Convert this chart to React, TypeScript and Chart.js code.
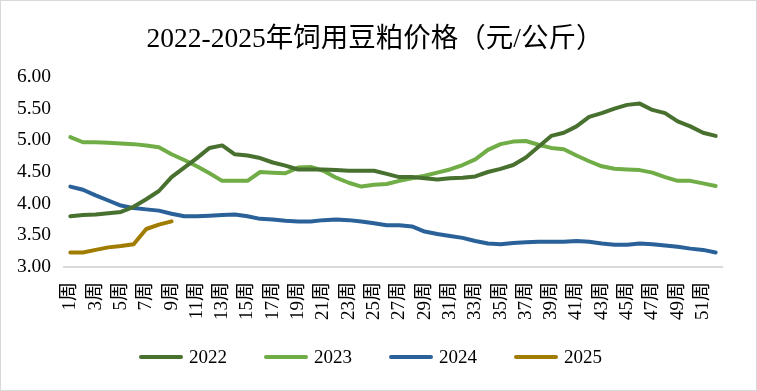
import React, { useEffect, useRef } from 'react';
import { Chart, registerables } from 'chart.js';

Chart.register(...registerables);

const weeks = [
  '1周', '2周', '3周', '4周', '5周', '6周', '7周', '8周', '9周', '10周',
  '11周', '12周', '13周', '14周', '15周', '16周', '17周', '18周', '19周', '20周',
  '21周', '22周', '23周', '24周', '25周', '26周', '27周', '28周', '29周', '30周',
  '31周', '32周', '33周', '34周', '35周', '36周', '37周', '38周', '39周', '40周',
  '41周', '42周', '43周', '44周', '45周', '46周', '47周', '48周', '49周', '50周',
  '51周', '52周',
];

const y2022 = [
  3.80, 3.82, 3.83, 3.85, 3.87, 3.95, 4.07, 4.20, 4.42, 4.57,
  4.72, 4.88, 4.92, 4.78, 4.76, 4.72, 4.65, 4.60, 4.54, 4.54,
  4.54, 4.53, 4.52, 4.52, 4.52, 4.47, 4.42, 4.42, 4.40, 4.38,
  4.40, 4.41, 4.43, 4.50, 4.55, 4.61, 4.73, 4.90, 5.07, 5.12,
  5.22, 5.37, 5.43, 5.50, 5.56, 5.58, 5.48, 5.43, 5.30, 5.22,
  5.12, 5.07,
];

const y2023 = [
  5.05, 4.97, 4.97, 4.96, 4.95, 4.94, 4.92, 4.89, 4.78, 4.69,
  4.59, 4.48, 4.36, 4.36, 4.36, 4.50, 4.49, 4.48, 4.57, 4.58,
  4.52, 4.41, 4.33, 4.27, 4.30, 4.31, 4.36, 4.40, 4.44, 4.49,
  4.54, 4.61, 4.70, 4.85, 4.94, 4.98, 4.99, 4.93, 4.88, 4.86,
  4.76, 4.67, 4.59, 4.55, 4.54, 4.53, 4.49, 4.42, 4.36, 4.36,
  4.32, 4.28,
];

const y2024 = [
  4.27, 4.22, 4.13, 4.05, 3.97, 3.93, 3.91, 3.89, 3.84, 3.80,
  3.80, 3.81, 3.82, 3.83, 3.80, 3.76, 3.75, 3.73, 3.72, 3.72,
  3.74, 3.75, 3.74, 3.72, 3.69, 3.66, 3.66, 3.64, 3.56, 3.52,
  3.49, 3.46, 3.41, 3.37, 3.36, 3.38, 3.39, 3.40, 3.40, 3.40,
  3.41, 3.40, 3.37, 3.35, 3.35, 3.37, 3.36, 3.34, 3.32, 3.29,
  3.27, 3.23,
];

const y2025 = [3.23, 3.23, 3.27, 3.31, 3.33, 3.36, 3.60, 3.67, 3.72];

const seriesNames = ['2022', '2023', '2024', '2025'];
const seriesColors = ['#48702f', '#70ad47', '#2a6198', '#a07c00'];
const yTicks = [3.0, 3.5, 4.0, 4.5, 5.0, 5.5, 6.0];

const titleText = '2022-2025年饲用豆粕价格（元/公斤）';
const SERIF = "'Liberation Serif', 'Times New Roman', 'Noto Sans CJK SC', serif";
const TITLE_SIZE = 27.5;

const titleShiftPlugin = {
  id: 'titleShift',
  afterDraw(chart: any) {
    const tb = chart.titleBlock;
    if (!tb) return;
    const ctx = chart.ctx;
    ctx.save();
    ctx.font = `${TITLE_SIZE}px ${SERIF}`;
    ctx.fillStyle = '#000';
    ctx.textAlign = 'center';
    ctx.textBaseline = 'middle';
    const cx = tb.left + tb.width / 2 + 7;
    const cy = tb.top + 22 + (TITLE_SIZE * 1.2) / 2;
    ctx.fillText(tb.options.text, cx, cy);
    ctx.restore();
  },
};

const legendPlugin = {
  id: 'customLegend',
  afterDraw(chart: any) {
    const ctx = chart.ctx;
    const ds = chart.data.datasets;
    const lineLen = 44;
    const gap = 6;
    const itemGap = 37;
    ctx.save();
    ctx.font = `19px ${SERIF}`;
    const widths = ds.map((d: any) => lineLen + gap + ctx.measureText(d.label).width);
    const total = widths.reduce((a: number, b: number) => a + b, 0) + itemGap * (ds.length - 1);
    let x = chart.width / 2 - 8 - total / 2;
    const y = 356;
    ds.forEach((d: any, i: number) => {
      ctx.strokeStyle = d.borderColor;
      ctx.lineWidth = 4;
      ctx.lineCap = 'round';
      ctx.beginPath();
      ctx.moveTo(x + 2, y);
      ctx.lineTo(x + lineLen - 2, y);
      ctx.stroke();
      ctx.fillStyle = '#000';
      ctx.textBaseline = 'middle';
      ctx.textAlign = 'left';
      ctx.fillText(d.label, x + lineLen + gap, y + 1);
      x += widths[i] + itemGap;
    });
    ctx.restore();
  },
};

export default function App() {
  const ref = useRef<HTMLCanvasElement>(null);

  useEffect(() => {
    document.body.style.margin = '0';
    const canvas = ref.current;
    if (!canvas) return;
    const allSeries = [y2022, y2023, y2024, y2025];
    const chart = new Chart(canvas, {
      type: 'line',
      data: {
        labels: weeks,
        datasets: allSeries.map((s, i) => ({
          label: seriesNames[i],
          data: s,
          borderColor: seriesColors[i],
          backgroundColor: seriesColors[i],
          borderWidth: 4,
          pointRadius: 0,
          pointHoverRadius: 0,
          tension: 0,
          fill: false,
          borderCapStyle: 'round' as const,
          borderJoinStyle: 'round' as const,
        })),
      },
      options: {
        animation: false,
        responsive: true,
        maintainAspectRatio: false,
        layout: { padding: { left: 13, right: 34, top: 0, bottom: 63 } },
        plugins: {
          legend: { display: false },
          tooltip: { enabled: false },
          title: {
            display: true,
            text: titleText,
            color: 'rgba(0,0,0,0)',
            font: { family: SERIF, size: TITLE_SIZE, weight: 'normal' as const },
            padding: { top: 22, bottom: 21 },
          },
        },
        scales: {
          x: {
            type: 'category',
            offset: true,
            grid: { display: false, drawTicks: false },
            border: { display: true, color: '#d9d9d9', width: 2 },
            ticks: {
              autoSkip: false,
              minRotation: 90,
              maxRotation: 90,
              padding: 15,
              color: '#000',
              font: { family: SERIF, size: 19 },
              callback: (_v: any, idx: number) => (idx % 2 === 0 ? weeks[idx] : ''),
            },
            afterFit: (scale: any) => {
              scale.height = 60;
            },
          },
          y: {
            min: yTicks[0],
            max: yTicks[yTicks.length - 1],
            grid: { display: false, drawTicks: false },
            border: { display: false },
            afterBuildTicks: (scale: any) => {
              scale.ticks = yTicks.map((v) => ({ value: v }));
            },
            ticks: {
              padding: 13,
              color: '#000',
              font: { family: SERIF, size: 19.5 },
              callback: (v: any) => Number(v).toFixed(2),
            },
            afterFit: (scale: any) => {
              scale.width = 50;
            },
          },
        },
      },
      plugins: [titleShiftPlugin, legendPlugin],
    });
    return () => chart.destroy();
  }, []);

  return (
    <div
      style={{
        width: 757,
        height: 391,
        boxSizing: 'border-box',
        border: '1px solid #d9d9d9',
        background: '#fff',
        position: 'relative',
      }}
    >
      <canvas ref={ref} />
    </div>
  );
}
